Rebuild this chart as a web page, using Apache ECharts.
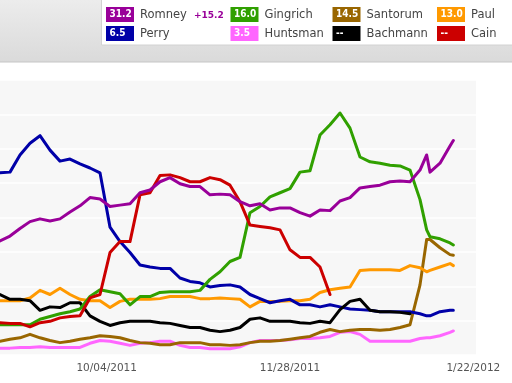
<!DOCTYPE html>
<html>
<head>
<meta charset="utf-8">
<script src="https://cdn.jsdelivr.net/npm/echarts@6/dist/echarts.min.js"></script>
<style>
html,body{margin:0;padding:0;background:#fff;}
#chart{width:512px;height:383px;}
</style>
</head>
<body>
<div id="chart"></div>
<script>
// x positions: days since 2011-09-01
const days = [1,4,7,10,13,16,19,22,25,28,31,34,37,40,43,46,49,52,55,58,61,64,67,70,73,76,79,82,85,88,91,94,97,100,103,106,109,112,115,118,121,124,127,129,130,133,136,137];
const tickDays = [33, 88, 143];
const tickLabels = ['10/04/2011', '11/28/2011', '1/22/2012'];

const romney   = [16.6,17.3,18.4,19.4,19.8,19.5,19.8,20.8,21.7,22.9,22.7,21.6,21.8,22.0,23.6,24.0,25.2,25.8,24.9,24.5,24.5,23.3,23.4,23.3,22.3,21.7,22.0,21.1,21.4,21.4,20.7,20.2,21.1,21.0,22.4,22.9,24.3,24.5,24.7,25.2,25.3,25.2,26.9,29.1,26.6,27.9,30.4,31.2];
const perry    = [26.5,26.6,29.1,30.8,31.9,29.8,28.2,28.5,27.8,27.2,26.5,18.6,16.5,14.9,13.1,12.8,12.6,12.6,11.2,10.7,10.5,9.9,10.1,10.2,9.9,8.8,8.2,7.6,7.9,8.1,7.3,7.3,7.0,7.3,7.0,6.7,6.6,6.5,6.3,6.3,6.3,6.3,6.0,5.7,5.7,6.3,6.5,6.5];
const gingrich = [4.4,4.4,4.4,4.4,5.2,5.6,6.0,6.3,6.7,8.5,9.5,9.2,8.9,7.3,8.5,8.5,9.1,9.2,9.2,9.2,9.4,11.0,12.1,13.6,14.2,20.7,21.6,23.0,23.6,24.2,26.6,26.8,32.0,33.5,35.2,33.0,28.8,28.1,27.9,27.6,27.5,26.9,22.6,18.2,17.2,16.9,16.3,16.0];
const cain     = [4.7,4.6,4.6,4.1,4.7,4.9,5.4,5.6,5.7,8.3,8.8,14.9,16.5,16.5,23.3,23.6,26.1,26.2,25.8,25.2,25.2,25.8,25.5,24.7,22.3,18.9,18.7,18.5,18.2,15.3,14.2,14.2,12.8,8.8,null,null,null,null,null,null,null,null,null,null,null,null,null,null];
const paul     = [7.9,7.9,7.9,8.3,9.4,8.8,9.7,8.8,8.1,7.9,7.9,6.9,7.8,8.1,8.1,8.1,8.2,8.5,8.5,8.5,8.2,8.2,8.3,8.2,8.1,7.0,7.8,7.8,7.8,7.9,7.9,8.1,9.1,9.5,9.7,9.9,12.3,12.4,12.4,12.4,12.3,13.0,12.7,12.1,12.3,12.8,13.3,13.0];
const bachmann = [8.8,8.1,8.1,7.9,6.5,7.0,6.9,7.6,7.6,5.7,4.9,4.3,4.7,4.9,4.9,4.9,4.7,4.6,4.3,4.0,4.0,3.6,3.4,3.6,4.0,5.2,5.4,4.9,4.9,4.9,4.7,4.6,4.9,4.7,6.6,7.8,8.1,6.5,6.3,6.3,6.2,6.0,null,null,null,null,null,null];
const santorum = [2.0,2.3,2.5,3.0,2.5,2.1,1.8,2.0,2.3,2.5,2.8,2.7,2.5,2.1,1.8,1.7,1.5,1.5,1.8,1.8,1.8,1.5,1.5,1.4,1.5,1.8,2.0,2.0,2.1,2.3,2.5,2.7,3.3,3.7,3.4,3.6,3.7,3.7,3.6,3.7,4.0,4.4,10.2,16.8,16.8,15.6,14.6,14.5];
const huntsman = [1.0,1.0,1.1,1.1,1.2,1.1,1.1,1.1,1.1,1.7,2.1,2.0,1.7,1.4,1.7,1.8,2.0,2.0,1.4,1.1,1.1,0.9,0.9,0.9,1.2,1.8,2.1,2.1,2.1,2.2,2.4,2.4,2.5,2.7,3.3,3.4,3.0,2.0,2.0,2.0,2.0,2.0,2.4,2.5,2.5,2.8,3.3,3.5];

// legend content
const legendNames  = ['Romney','Perry','Gingrich','Huntsman','Santorum','Bachmann','Paul','Cain'];
const legendValues = ['31.2','6.5','16.0','3.5','14.5','--','13.0','--'];
const romneyLead = '+15.2';

const colors = {
  Romney:'#990099', Perry:'#0000a8', Gingrich:'#30a000', Huntsman:'#ff66ff',
  Santorum:'#996600', Bachmann:'#000000', Paul:'#ff9900', Cain:'#cc0000'
};
const seriesData = {
  Romney:romney, Perry:perry, Gingrich:gingrich, Huntsman:huntsman,
  Santorum:santorum, Bachmann:bachmann, Paul:paul, Cain:cain
};
const drawOrder = ['Huntsman','Santorum','Paul','Perry','Bachmann','Gingrich','Cain','Romney'];

function pairs(arr){
  return days.map((d,i)=>[d, arr[i]]).filter(p => p[1] !== null);
}

const series = drawOrder.map(n => ({
  name: n, type: 'line', data: pairs(seriesData[n]),
  showSymbol: false, symbol: 'none', smooth: false,
  lineStyle: { color: colors[n], width: 3, cap: 'round', join: 'round' },
  itemStyle: { color: colors[n] },
  emphasis: { disabled: true }
}));

// graphics: header band + legend box
const graphics = [
  { type:'rect', shape:{x:0,y:0,width:512,height:62}, silent:true, z:0,
    style:{ fill:{type:'linear',x:0,y:0,x2:0,y2:1,colorStops:[{offset:0,color:'#ececec'},{offset:1,color:'#dadada'}]} } },
  { type:'rect', shape:{x:0,y:61.5,width:512,height:1}, silent:true, style:{fill:'#c6c6c6'} },
  { type:'rect', shape:{x:101.5,y:-2,width:420,height:47}, silent:true,
    style:{fill:'#ffffff', stroke:'#d2d2d2', lineWidth:1} }
];
const colX = [106, 230.5, 332.5, 437];
const rowY = [7, 26];
legendNames.forEach((n, i) => {
  const c = Math.floor(i/2), r = i % 2;
  const x = colX[c], y = rowY[r];
  graphics.push({ type:'rect', shape:{x:x, y:y, width:28, height:15}, silent:true, style:{fill:colors[n]} });
  graphics.push({ type:'text', x:x+3.5, y:y+7.5, silent:true,
    style:{ text:legendValues[i], fill:'#ffffff', font:'bold 10px "DejaVu Sans Condensed", "DejaVu Sans"', verticalAlign:'middle', align:'left' } });
  graphics.push({ type:'text', x:x+34, y:y+8, silent:true,
    style:{ text:n, fill:'#444444', font:'11.5px "DejaVu Sans"', verticalAlign:'middle', align:'left' } });
});
graphics.push({ type:'text', x:194, y:15.5, silent:true,
  style:{ text:romneyLead, fill:'#990099', font:'bold 9px "DejaVu Sans"', verticalAlign:'middle', align:'left' } });

const chart = echarts.init(document.getElementById('chart'), null, {renderer:'canvas'});
chart.setOption({
  animation: false,
  backgroundColor: '#ffffff',
  grid: { left: 0, right: 36, top: 80, bottom: 28, show: true, backgroundColor: '#f7f7f7', borderWidth: 0, containLabel: false },
  xAxis: {
    type: 'value', min: 1, max: 143.8,
    axisLine: { show: false }, axisTick: { show: false }, splitLine: { show: false },
    axisLabel: {
      customValues: tickDays,
      formatter: v => { const k = tickDays.indexOf(v); return k >= 0 ? tickLabels[k] : ''; },
      color: '#555555', fontSize: 10.5, fontFamily: 'DejaVu Sans', margin: 8, hideOverlap: false
    }
  },
  yAxis: {
    type: 'value', min: 0, max: 40, interval: 5,
    axisLine: { show: false }, axisTick: { show: false }, axisLabel: { show: false },
    splitLine: { show: true, lineStyle: { color: '#ffffff', width: 1.5 } }
  },
  graphic: graphics,
  series: series
});
</script>
</body>
</html>
